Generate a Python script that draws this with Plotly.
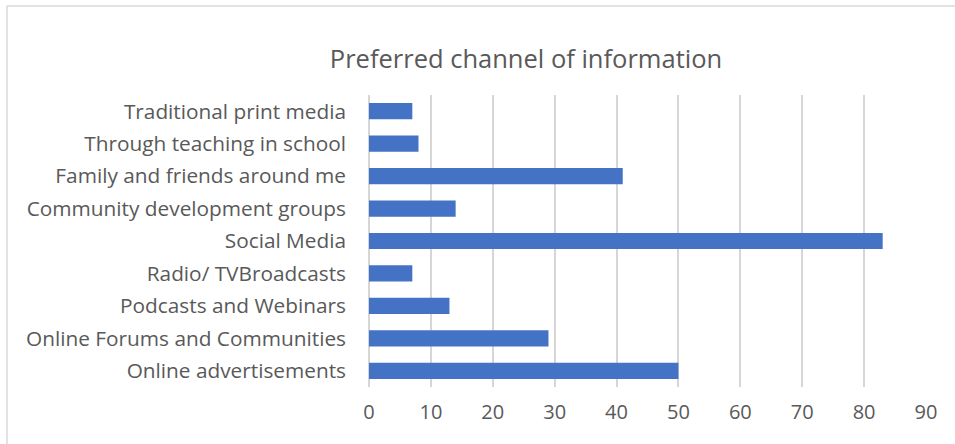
import plotly.graph_objects as go

# Survey responses: preferred channel of information (top to bottom as listed)
channels = [
    "Traditional print media",
    "Through teaching in school",
    "Family and friends around me",
    "Community development groups",
    "Social Media",
    "Radio/ TVBroadcasts",
    "Podcasts and Webinars",
    "Online Forums and Communities",
    "Online advertisements",
]
counts = [7, 8, 41, 14, 83, 7, 13, 29, 50]
x_ticks = [0, 10, 20, 30, 40, 50, 60, 70, 80, 90]

BAR_COLOR = "#4472C4"
TEXT_COLOR = "#595959"
GRID_COLOR = "#D6D6D6"
FONT = "'Open Sans', Lato, sans-serif"

fig = go.Figure(
    go.Bar(
        x=counts,
        y=channels,
        orientation="h",
        marker=dict(color=BAR_COLOR, line=dict(width=0)),
        hoverinfo="x+y",
    )
)

W, H = 955, 444
L, R, T, B = 369, 29, 95, 57
plot_w = W - L - R
plot_h = H - T - B

fig.update_layout(
    width=W,
    height=H,
    margin=dict(l=L, r=R, t=T, b=B, pad=0),
    paper_bgcolor="white",
    plot_bgcolor="white",
    bargap=0.5,
    showlegend=False,
    font=dict(family=FONT, color=TEXT_COLOR, size=20),
    title=dict(
        text="Preferred channel of information",
        x=526 / W,
        xanchor="center",
        y=1 - 59 / H,
        yanchor="middle",
        font=dict(family=FONT, size=25.5, color=TEXT_COLOR),
    ),
    xaxis=dict(
        range=[0, 90],
        tickvals=x_ticks,
        showgrid=True,
        gridcolor=GRID_COLOR,
        gridwidth=1.6,
        zeroline=True,
        zerolinecolor=GRID_COLOR,
        zerolinewidth=1.6,
        showline=False,
        ticks="",
        ticklabelstandoff=11,
        tickfont=dict(size=20, color=TEXT_COLOR),
        fixedrange=True,
    ),
    yaxis=dict(
        categoryorder="array",
        categoryarray=channels[::-1],
        showgrid=False,
        showline=False,
        ticks="",
        ticklabelstandoff=22,
        tickfont=dict(size=20.8, color=TEXT_COLOR),
        fixedrange=True,
    ),
)

# Light chart-area frame along the top and left edges
left_px, top_px = 7, 6
x_left = (left_px - L) / plot_w
y_top = (H - B - top_px) / plot_h
y_bottom = (H - B - H - 5) / plot_h
x_right = (W + 5 - L) / plot_w
frame = dict(color="#D9D9D9", width=1.5)
fig.add_shape(type="line", xref="paper", yref="paper",
              x0=x_left, x1=x_right, y0=y_top, y1=y_top, line=frame, layer="below")
fig.add_shape(type="line", xref="paper", yref="paper",
              x0=x_left, x1=x_left, y0=y_bottom, y1=y_top, line=frame, layer="below")

fig.write_html("out.html")
